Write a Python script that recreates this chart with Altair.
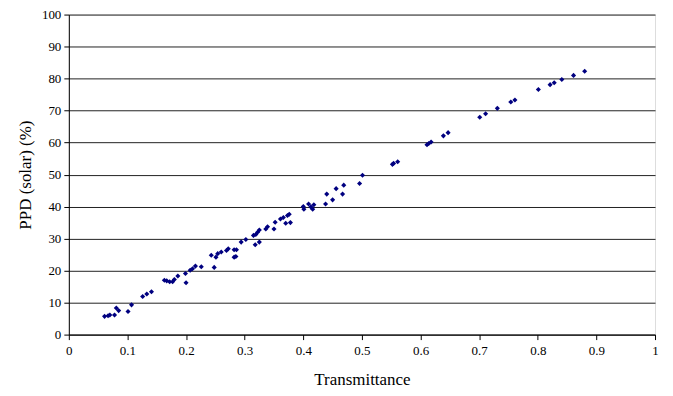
import altair as alt
import pandas as pd

transmittance = [
    0.061, 0.067, 0.070, 0.078, 0.081, 0.085, 0.101, 0.107, 0.126, 0.133,
    0.141, 0.163, 0.167, 0.172, 0.177, 0.180, 0.186, 0.199, 0.200, 0.207,
    0.211, 0.216, 0.226, 0.248, 0.243, 0.251, 0.254, 0.260, 0.269, 0.272,
    0.282, 0.286, 0.282, 0.285, 0.294, 0.302, 0.315, 0.319, 0.322, 0.325,
    0.318, 0.325, 0.336, 0.339, 0.350, 0.352, 0.361, 0.366, 0.370, 0.373,
    0.376, 0.378, 0.400, 0.401, 0.409, 0.413, 0.416, 0.418, 0.438, 0.440,
    0.450, 0.456, 0.467, 0.469, 0.496, 0.501, 0.552, 0.554, 0.561, 0.611,
    0.614, 0.618, 0.639, 0.647, 0.701, 0.711, 0.731, 0.754, 0.761, 0.801,
    0.821, 0.828, 0.841, 0.861, 0.880,
]
ppd = [
    5.7, 5.9, 6.1, 6.1, 8.3, 7.5, 7.2, 9.3, 11.9, 12.7,
    13.4, 17.0, 16.8, 16.5, 16.5, 17.2, 18.3, 19.1, 16.2, 20.1,
    20.6, 21.4, 21.2, 21.0, 24.8, 24.2, 25.3, 25.8, 26.3, 26.8,
    26.5, 26.5, 24.2, 24.4, 28.9, 29.7, 31.0, 31.3, 32.0, 32.7,
    28.1, 28.9, 33.0, 33.7, 33.0, 35.1, 36.1, 36.6, 34.8, 37.2,
    37.6, 35.0, 40.0, 39.2, 40.8, 39.9, 39.2, 40.6, 40.8, 43.9,
    42.1, 45.6, 43.9, 46.7, 47.2, 49.8, 53.2, 53.5, 54.0, 59.3,
    59.7, 60.2, 62.1, 63.1, 67.9, 69.0, 70.7, 72.7, 73.3, 76.6,
    78.1, 78.7, 79.7, 81.0, 82.3,
]
x_ticks = [0, 0.1, 0.2, 0.3, 0.4, 0.5, 0.6, 0.7, 0.8, 0.9, 1]
y_ticks = [0, 10, 20, 30, 40, 50, 60, 70, 80, 90, 100]

df = pd.DataFrame({"t": transmittance, "ppd": ppd})

font = "Liberation Serif, DejaVu Serif, serif"

chart = alt.Chart(df).mark_point(
    shape="diamond", filled=True, color="#000080", size=26, opacity=1
).encode(
    x=alt.X("t:Q", title="Transmittance",
            scale=alt.Scale(domain=[0, 1], nice=False, zero=True),
            axis=alt.Axis(values=x_ticks, format="~g", grid=False,
                          domainColor="#000000", tickColor="#000000",
                          tickSize=5, labelPadding=5, labelFontSize=13,
                          labelColor="#000000",
                          titleFontSize=17, titleFontWeight="normal",
                          titleColor="#000000", titlePadding=14, labelFlush=False)),
    y=alt.Y("ppd:Q", title="PPD (solar) (%)",
            scale=alt.Scale(domain=[0, 100], nice=False),
            axis=alt.Axis(values=y_ticks, grid=True, gridColor="#222222", gridWidth=1,
                          domainColor="#000000", tickColor="#000000",
                          tickSize=5, labelPadding=3, labelFontSize=13,
                          labelColor="#000000",
                          titleFontSize=17, titleFontWeight="normal",
                          titleColor="#000000", titlePadding=7, labelFlush=False)),
).properties(
    width=588, height=321,
    autosize=alt.AutoSizeParams(type="none"),
    padding={"left": 61, "top": 6, "right": 10, "bottom": 62},
).configure_view(stroke=None).configure(
    background="white", font=font
).configure_axis(labelFont=font, titleFont=font)

chart.save("out.html", embed_options={"renderer": "svg", "actions": False})
